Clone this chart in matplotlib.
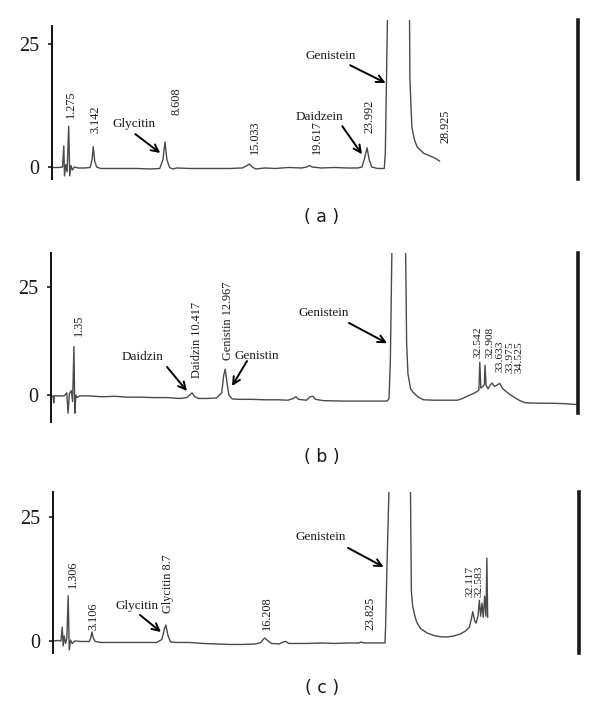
import matplotlib
matplotlib.use("Agg")
import matplotlib.pyplot as plt

# ---------------- data (retention time in min, detector signal) ----------------
time_a = [0.0, 0.5, 0.8, 0.9, 0.95, 1.05, 1.15, 1.27, 1.35, 1.45, 1.55, 1.7, 2.0, 2.5, 2.9,
          3.05, 3.14, 3.25, 3.4, 3.7, 4.5, 5.5, 6.5, 7.5, 8.2, 8.45, 8.6, 8.75, 8.95, 9.2,
          9.5, 10.5, 12.0, 13.5, 14.5, 14.85, 15.03, 15.25, 15.5, 16.2, 17.0, 18.0, 19.0,
          19.4, 19.6, 19.8, 20.5, 21.5, 22.5, 23.3, 23.6, 23.8, 23.99, 24.15, 24.35, 24.8,
          25.3, 25.38, 25.45, 25.6, 27.2, 27.25, 27.4, 27.6, 27.8, 28.3, 29.0, 29.3, 29.5]
signal_a = [-0.1, -0.1, 0.0, 4.3, -1.8, 0.5, -1.0, 8.3, -1.8, 0.3, -0.6, 0.0, -0.2, -0.2, -0.1,
            1.5, 4.1, 1.2, 0.0, -0.3, -0.3, -0.3, -0.3, -0.4, -0.3, 1.5, 5.1, 1.5, -0.1, -0.4,
            -0.2, -0.3, -0.3, -0.3, -0.2, 0.3, 0.6, 0.0, -0.4, -0.2, -0.3, -0.1, -0.2,
            0.0, 0.3, 0.0, -0.2, -0.1, -0.2, -0.2, 0.0, 1.8, 3.9, 1.5, 0.0, -0.3,
            -0.3, 3.0, 15.0, 40.0, 40.0, 18.0, 8.1, 5.5, 4.1, 2.8, 2.0, 1.6, 1.2]

time_b = [-0.45, -0.25, -0.2, -0.15, 0.2, 0.6, 0.8, 0.9, 1.0, 1.15, 1.25, 1.35, 1.42, 1.5,
          1.6, 1.8, 2.5, 3.5, 4.5, 5.5, 6.5, 7.5, 8.5, 9.5, 10.0, 10.25, 10.42, 10.6, 10.9,
          11.5, 12.3, 12.7, 12.85, 12.97, 13.1, 13.25, 13.5, 14.0, 15.0, 16.0, 17.0, 17.8,
          18.2, 18.4, 18.6, 19.2, 19.5, 19.7, 19.9, 20.5, 22.0, 24.0, 25.4, 25.55, 25.65,
          25.8, 26.8, 26.9, 27.0, 27.2, 27.4, 27.8, 28.2, 29.0, 30.0, 30.8, 31.2, 31.6,
          32.0, 32.3, 32.45, 32.52, 32.6, 32.75, 32.87, 32.92, 33.0, 33.15, 33.3, 33.45,
          33.65, 33.9, 34.05, 34.25, 34.5, 34.8, 35.2, 35.6, 36.0, 37.0, 38.0, 39.0, 39.9]
signal_b = [-0.2, -0.2, -1.8, -0.2, -0.2, -0.2, 0.5, -4.2, 0.3, 1.0, -1.5, 11.2, -4.2, 0.0,
            -0.6, -0.2, -0.2, -0.4, -0.3, -0.5, -0.5, -0.6, -0.6, -0.8, -0.6, 0.0, 0.5, -0.3, -0.8,
            -0.8, -0.7, 0.5, 4.5, 6.0, 3.0, 0.0, -0.9, -1.0, -1.0, -1.1, -1.1, -1.2,
            -0.8, -0.4, -1.0, -1.2, -0.4, -0.3, -1.0, -1.3, -1.4, -1.4, -1.4, -0.8, 8.0,
            40.0, 40.0, 12.0, 5.0, 1.5, 0.6, -0.5, -1.1, -1.2, -1.2, -1.2, -0.8, -0.2,
            0.3, 0.8, 1.2, 7.6, 1.6, 2.0, 2.4, 6.9, 2.3, 1.4, 2.2, 2.8,
            2.0, 2.4, 2.7, 1.6, 0.9, 0.2, -0.6, -1.3, -1.8, -1.9, -1.9, -2.0, -2.2]

time_c = [0.15, 0.5, 0.75, 0.85, 0.92, 1.0, 1.1, 1.2, 1.3, 1.38, 1.48, 1.6, 1.8, 2.3, 2.9,
          3.0, 3.1, 3.2, 3.35, 3.8, 5.0, 6.0, 7.0, 8.0, 8.4, 8.6, 8.7, 8.85, 9.05, 9.5, 10.5,
          11.5, 12.5, 13.5, 14.5, 15.5, 15.9, 16.1, 16.2, 16.4, 16.7, 17.3, 17.6, 17.8, 18.0,
          18.5, 19.5, 20.5, 21.5, 22.5, 23.3, 23.5, 23.7, 24.5, 25.3, 25.35, 25.45, 25.7,
          27.2, 27.3, 27.4, 27.55, 27.7, 28.0, 28.5, 29.0, 29.5, 30.0, 30.5, 31.0, 31.4,
          31.7, 31.85, 31.95, 32.1, 32.2, 32.35, 32.45, 32.55, 32.65, 32.75, 32.85, 32.95,
          33.02, 33.08]
signal_c = [0.0, 0.1, 0.0, 2.8, -1.0, 1.0, -0.5, 0.5, 9.1, -1.8, 0.2, -0.5, 0.0, -0.1, -0.1,
            0.5, 1.8, 0.6, -0.1, -0.3, -0.3, -0.3, -0.3, -0.3, 0.3, 2.5, 3.2, 1.2, -0.2, -0.3, -0.3,
            -0.5, -0.6, -0.7, -0.7, -0.6, -0.3, 0.4, 0.6, 0.1, -0.5, -0.6, -0.2, -0.1, -0.5,
            -0.5, -0.5, -0.4, -0.5, -0.4, -0.4, -0.2, -0.4, -0.4, -0.4, 3.0, 15.0, 40.0,
            40.0, 10.0, 7.0, 5.2, 3.8, 2.5, 1.6, 1.1, 0.85, 0.8, 1.0, 1.4, 2.0,
            2.8, 4.5, 5.9, 4.0, 3.6, 5.0, 8.2, 5.0, 7.6, 4.8, 9.0, 5.0,
            16.7, 4.8]

y_ticks = [0, 25]

# peak labels (rotated retention times) and compound names
labels_a = ["1.275", "3.142", "8.608", "15.033", "19.617", "23.992", "28.925"]
labels_b = ["1.35", "Daidzin 10.417", "Genistin 12.967", "32.542", "32.908",
            "33.633", "33.975", "34.525"]
labels_c = ["1.306", "3.106", "Glycitin 8.7", "16.208", "23.825", "32.117", "32.583"]
names_a = ["Glycitin", "Daidzein", "Genistein"]
names_b = ["Daidzin", "Genistin", "Genistein"]
names_c = ["Glycitin", "Genistein"]
captions = ["( a )", "( b )", "( c )"]

# ---------------- styling / layout ----------------
W, H = 600, 704
SERIF = ["Liberation Serif", "DejaVu Serif"]
TRACE = "#4a4a4a"
TXT = "#1a1a1a"

fig = plt.figure(figsize=(W / 100, H / 100), dpi=100)


def make_axes(left, right, top, bottom, xlim, ylim, lspine=None, rspine=None):
    ax = fig.add_axes([left / W, 1 - bottom / H, (right - left) / W, (bottom - top) / H])
    ax.set_xlim(*xlim)
    ax.set_ylim(*ylim)
    for s in ("top", "bottom"):
        ax.spines[s].set_visible(False)
    ax.spines["left"].set_linewidth(1.4)
    ax.spines["left"].set_color("#111111")
    ax.spines["right"].set_linewidth(2.6)
    ax.spines["right"].set_color("#1a1a1a")
    if lspine:
        ax.spines["left"].set_bounds(*lspine)
    if rspine:
        ax.spines["right"].set_bounds(*rspine)
    ax.set_xticks([])
    ax.set_yticks(y_ticks)
    ax.tick_params(axis="y", length=3, width=1.2, pad=6, labelsize=14.5, colors=TXT)
    for t in ax.get_yticklabels():
        t.set_fontfamily(SERIF)
    ax.patch.set_alpha(0)
    return ax


def vlabel(ax, x, y, s, size=8.8):
    ax.text(x, y, s, rotation=90, ha="center", va="bottom", fontsize=size,
            family=SERIF, color=TXT)


def arrow_label(ax, s, txt_xy, tail, head):
    ax.text(txt_xy[0], txt_xy[1], s, ha="center", va="center", fontsize=9.5,
            family=SERIF, color=TXT)
    ax.annotate("", xy=head, xytext=tail,
                arrowprops=dict(arrowstyle="->", lw=1.4, color="black",
                                mutation_scale=13, shrinkA=0, shrinkB=0))


# ---- panel (a)
ax_a = make_axes(52, 578, 20, 179, (0, 40.05), (-2.44, 29.9), lspine=(-2.44, 28.7))
ax_a.plot(time_a, signal_a, color=TRACE, lw=1.0)
for (x, y), s in zip([(1.47, 10.0), (3.3, 6.9), (9.46, 10.6), (15.47, 2.6),
                      (20.2, 2.6), (24.15, 6.9), (29.93, 4.9)], labels_a):
    vlabel(ax_a, x, y, s)
arrow_label(ax_a, names_a[0], (6.27, 8.74), (6.34, 6.7), (8.24, 2.85))
arrow_label(ax_a, names_a[1], (20.4, 10.2), (22.1, 8.3), (23.6, 2.6))
arrow_label(ax_a, names_a[2], (21.2, 22.6), (22.7, 20.7), (25.4, 17.1))

# ---- panel (b)
ax_b = make_axes(51, 578, 253, 422, (-0.41, 40.06), (-6.25, 32.9), rspine=(-4.2, 32.9))
ax_b.plot(time_b, signal_b, color=TRACE, lw=1.0)
for (x, y), s in zip([(1.74, 13.66), (10.8, 3.9), (13.18, 8.1)], labels_b[:3]):
    vlabel(ax_b, x, y, s)
for (x, y), s in zip([(32.38, 8.56), (33.3, 8.56), (34.1, 5.3), (34.8, 5.1),
                      (35.5, 5.1)], labels_b[3:]):
    vlabel(ax_b, x, y, s, size=8.2)
arrow_label(ax_b, names_b[0], (6.65, 8.8), (8.5, 6.5), (10.03, 0.93))
arrow_label(ax_b, names_b[1], (15.4, 9.0), (14.64, 7.87), (13.49, 2.08))
arrow_label(ax_b, names_b[2], (20.5, 19.0), (22.47, 16.7), (25.4, 12.0))

# ---- panel (c)
ax_c = make_axes(53, 579, 492, 653, (0.15, 40.0), (-2.42, 30.0))
ax_c.plot(time_c, signal_c, color=TRACE, lw=1.0)
for (x, y), s in zip([(1.67, 10.7), (3.18, 2.2), (8.86, 5.6), (16.36, 2.2),
                      (24.17, 2.2)], labels_c[:5]):
    vlabel(ax_c, x, y, s)
for (x, y), s in zip([(31.75, 8.9), (32.4, 8.9)], labels_c[5:]):
    vlabel(ax_c, x, y, s, size=8.2)
arrow_label(ax_c, names_c[0], (6.5, 7.06), (6.74, 5.24), (8.33, 1.8))
arrow_label(ax_c, names_c[1], (20.45, 21.0), (22.5, 18.75), (25.2, 14.9))

# ---- captions
for cap, yp in zip(captions, [217, 457, 688]):
    fig.text(322 / W, 1 - yp / H, cap, ha="center", va="center", fontsize=12.5,
             family=["DejaVu Sans"], color=TXT)

fig.savefig("out.png", dpi=100, facecolor="white")
